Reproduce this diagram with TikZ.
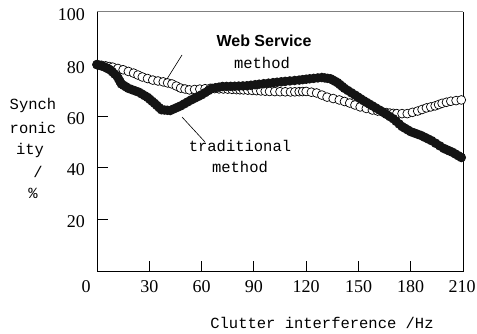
\documentclass[tikz,border=0pt]{standalone}
\usepackage{fontspec}
\setmainfont{Liberation Serif}
\newfontfamily\monof{Liberation Mono}
\newfontfamily\sansf{Liberation Sans}
\usetikzlibrary{calc}
\begin{document}
\begin{tikzpicture}[x=1pt,y=-1pt,
  mono/.style={font=\monof\fontsize{15.5}{16}\selectfont, inner sep=0pt},
  num/.style={font=\fontsize{18}{18}\selectfont, inner sep=0pt},
  bsans/.style={font=\sansf\bfseries\fontsize{16}{17}\selectfont, inner sep=0pt},
  axisline/.style={line width=1pt},
  topline/.style={line width=1pt, draw=black!50},
  tickline/.style={line width=1pt},
  leader/.style={line width=0.6pt},
  openmark/.style={line width=0.7pt, draw=black, fill=white},
  fillmark/.style={fill=black!92}
]
\useasboundingbox (0,0) rectangle (477,334);
% frame
\draw[axisline] (463,12) -- (463,271) -- (97,271) -- (97,12);
\draw[topline] (97,12) -- (463,12);
% y ticks and labels
\foreach \v/\yy in {80/65.6,60/116.2,40/167.8,20/219.4}{
  \draw[tickline] (97,\yy) -- (108,\yy);
  \node[num, anchor=east] (yl\v) at (85,\yy+2) {\v};
}
\node[num, anchor=east] (yl100) at (85,15) {100};
% x ticks and labels
\foreach \v/\xx in {30/149.3,60/201.6,90/253.9,120/306.2,150/358.5,180/410.7}{
  \draw[tickline] (\xx,271) -- (\xx,261);
  \node[num] (xl\v) at (\xx,287) {\v};
}
\node[num] (xl0) at (86,287) {0};
\node[num] (xl210) at (462,287) {210};
% axis titles
\node[mono] (xt) at (322,323) {Clutter interference /Hz};
\node[mono] (yt1) at (33,105) {Synch};
\node[mono] (yt2) at (33,128) {ronic};
\node[mono] (yt3) at (30,150) {ity};
\node[mono] (yt4) at (38,172) {/};
\node[mono] (yt5) at (33,193) {\%};
% data
\begin{scope}[shift={(97,271)}, x=1.743pt, y=2.58pt]
\foreach \xa/\ya [remember=\xa as \xp (initially 0), remember=\ya as \yp (initially 80)] in {
 5/79.5, 9/79, 15/78, 21/76.7, 26/75.2, 32/74, 38/73.3, 43/72.5, 48/70.9, 53/70.2, 59/70.5, 65/70.8, 70/70.6, 75/70.5, 80/70.3, 84/70.2, 89/70, 94/69.8, 99/69.6, 105/69.5, 111/69.4, 116/69.5, 120/69.6, 126/69, 132/67.4, 139/66.3, 145/65.1, 151/63.6, 158/62.4, 164/61.6, 168/61.2, 172/61, 178/61, 184/62, 189/63.2, 194/64, 198/65, 203/65.8, 209/66.3}{
  \foreach \t in {0,0.5}{
    \path[openmark] ($(\xp,\yp)!\t!(\xa,\ya)$) circle (4.4pt);
  }
}
\path[openmark] (209,66.3) circle (4.4pt);
\foreach \xa/\ya [remember=\xa as \xp (initially 0), remember=\ya as \yp (initially 80)] in {
 4/79.2, 7.5/78, 11.5/75.5, 14/72.5, 18/70.8, 24/69.3, 29/67.3, 33/65, 37/62.5, 42/62.2, 48/64, 54/66.3, 60/68.3, 66/70.8, 72/71.5, 79/71.6, 86/71.8, 93/72.4, 101/73, 108/73.5, 116/74, 122/74.5, 129/75, 134/74.5, 138/73, 142/70.8, 148/68.2, 153/66, 158/64, 164/61.6, 170/59, 175/56, 180/54, 186/52.5, 192/50.5, 199/47.5, 204/46, 209/44}{
  \foreach \t in {0,0.33,0.67}{
    \path[fillmark] ($(\xp,\yp)!\t!(\xa,\ya)$) circle (4.8pt);
  }
}
\path[fillmark] (209,44) circle (4.8pt);
\end{scope}
% labels and leaders
\node[bsans] (ws) at (264,41) {Web Service};
\node[mono] (wsm) at (262,63) {method};
\node[mono] (tr) at (240,146) {traditional};
\node[mono] (trm) at (240,167) {method};
\coordinate (wsa) at (182,55);
\coordinate (wsb) at (167,79);
\coordinate (tra) at (182,117);
\coordinate (trb) at (205,142);
\draw[leader] (wsa) -- (wsb);
\draw[leader] (tra) -- (trb);
\end{tikzpicture}
\end{document}
